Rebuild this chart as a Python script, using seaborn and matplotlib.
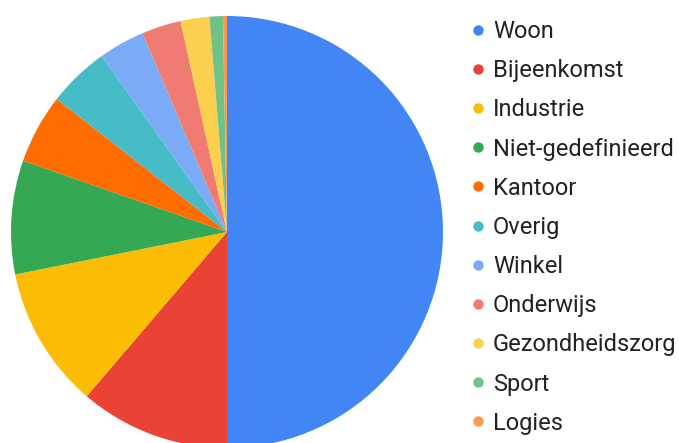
import matplotlib
matplotlib.use("Agg")
import matplotlib.pyplot as plt
from matplotlib.lines import Line2D
import seaborn as sns

# Data (share of total, %)
categories = ['Woon', 'Bijeenkomst', 'Industrie', 'Niet-gedefinieerd', 'Kantoor',
              'Overig', 'Winkel', 'Onderwijs', 'Gezondheidszorg', 'Sport', 'Logies']
values = [50.0, 11.25, 10.6, 8.5, 5.2, 4.6, 3.45, 2.95, 2.15, 1.0, 0.3]
colors = ['#4285F4', '#EA4335', '#FBBC04', '#34A853', '#FF6D01', '#46BDC6',
          '#7BAAF7', '#F07B72', '#FCD04F', '#71C287', '#FF994D']

sns.set_theme(style='white')
plt.rcParams['font.family'] = ['Roboto', 'DejaVu Sans']

fig = plt.figure(figsize=(6.79, 4.43), dpi=100)

# Pie axes: centre ~ (227, 232) px, radius ~216 px
W, H = 679, 443
cx, cy, r = 227, 232, 216
ax = fig.add_axes([(cx - r) / W, (H - cy - r) / H, 2 * r / W, 2 * r / H])
ax.pie(values, colors=sns.color_palette(colors), startangle=90, counterclock=False,
       wedgeprops=dict(linewidth=0))
ax.set_xlim(-1, 1)
ax.set_ylim(-1, 1)
ax.axis('off')

# Legend with round markers
handles = [Line2D([0], [0], marker='o', linestyle='', markersize=7.5,
                  markerfacecolor=c, markeredgewidth=0) for c in colors]
fig.legend(handles, categories, loc='upper left', bbox_to_anchor=(471 / W, 1 - 20 / H),
           frameon=False, fontsize=17, handlelength=0.6, handletextpad=0.335,
           labelspacing=0.685, labelcolor='#222222', borderaxespad=0, borderpad=0)

fig.savefig('out.png', dpi=100)
